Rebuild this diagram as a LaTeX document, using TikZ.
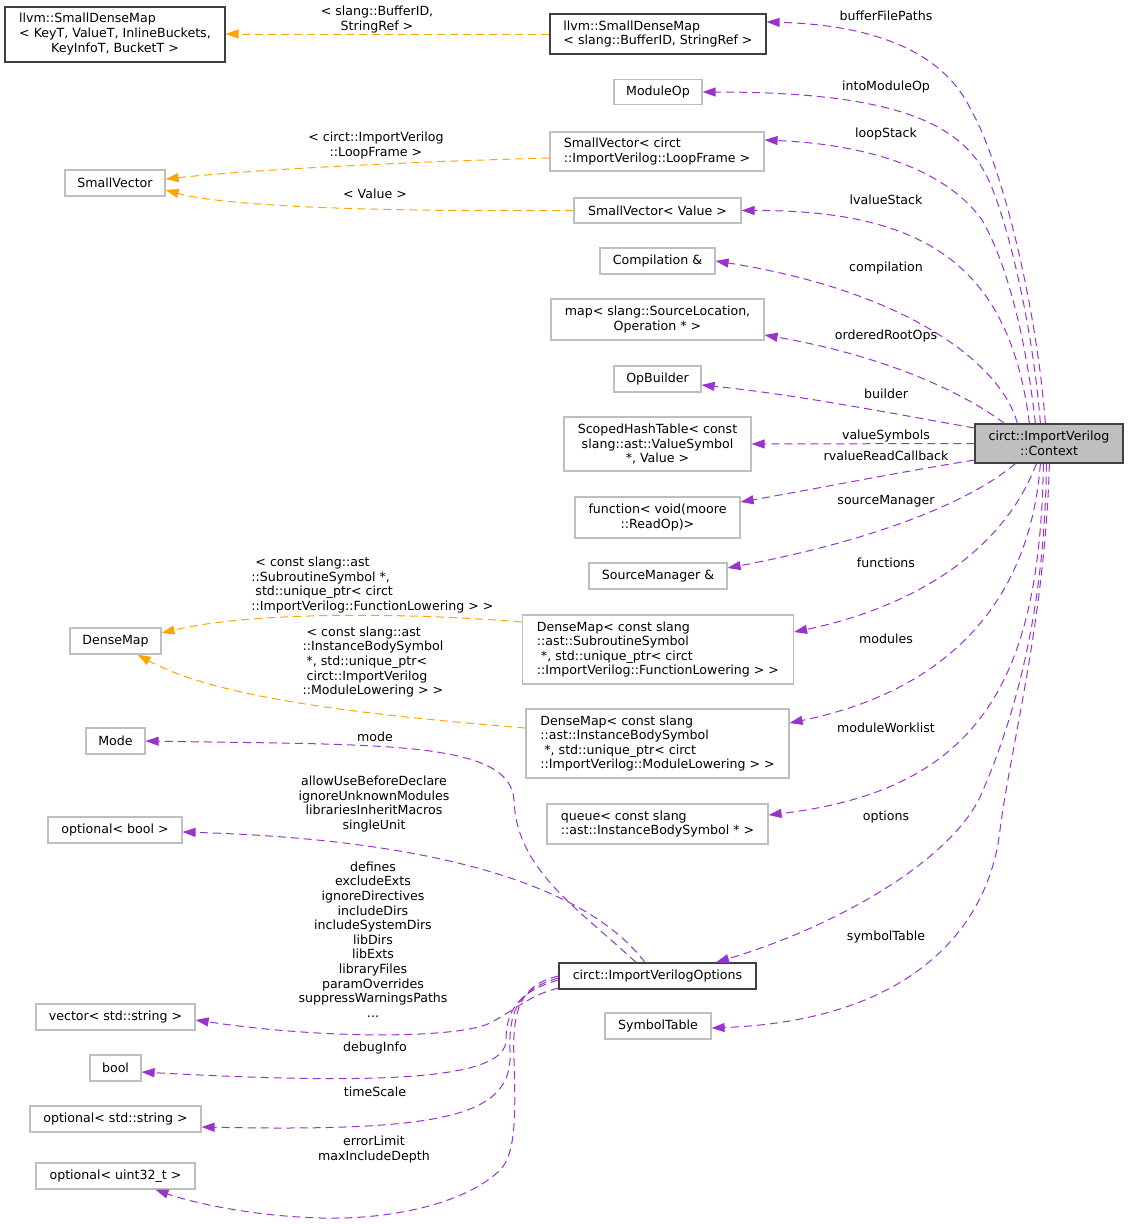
\documentclass[tikz,border=0pt]{standalone}
\usepackage{fontspec}
\setmainfont{DejaVu Sans}
\usetikzlibrary{arrows.meta,calc}
\definecolor{purp}{HTML}{9A32CD}
\definecolor{orng}{HTML}{FFA500}
\definecolor{gsev}{HTML}{BFBFBF}
\definecolor{docc}{HTML}{404040}
\newcommand\gfnt{\fontsize{12.6}{14.6}\selectfont}
\begin{document}
\begin{tikzpicture}[x=1pt,y=-1pt,
  nb/.style={draw=gsev, line width=1.2pt, fill=white, inner sep=0pt, font=\gfnt, align=center},
  nd/.style={nb, draw=docc},
  nr/.style={nb, draw=docc, fill=gsev},
  lbl/.style={inner sep=0pt, font=\gfnt, align=center},
  lbll/.style={inner sep=0pt, font=\gfnt, align=left},
  mem/.style={draw=purp, line width=1pt, dash pattern=on 8pt off 5pt, -{Triangle[length=13pt,width=9pt]}},
  tmpl/.style={mem, draw=orng}]
\fill[white] (0,0) rectangle (1128,1224);
\useasboundingbox (0,0) rectangle (1128,1224);

% nodes
\node[nd, minimum width=220pt, minimum height=55pt] (asdm) at (115,34.5) {\begin{tabular}{@{}l@{}}llvm::SmallDenseMap\\< KeyT, ValueT, InlineBuckets,\\\multicolumn{1}{@{}c@{}}{KeyInfoT, BucketT >}\end{tabular}};
\node[nd, align=left, minimum width=216pt, minimum height=40pt] (bsdm) at (658,34) {llvm::SmallDenseMap\\< slang::BufferID, StringRef >};
\node[nb, minimum width=88pt, minimum height=25pt] (modop) at (658,92) {ModuleOp};
\node[nb, align=left, minimum width=214pt, minimum height=39pt] (svloop) at (657,151.5) {SmallVector< circt\\::ImportVerilog::LoopFrame >};
\node[nb, minimum width=167pt, minimum height=25pt] (svval) at (657.5,210.5) {SmallVector< Value >};
\node[nb, minimum width=115pt, minimum height=26pt] (comp) at (657.5,261) {Compilation \&};
\node[nb, minimum width=213pt, minimum height=41pt] (map) at (657.5,319.5) {map< slang::SourceLocation,\\Operation * >};
\node[nb, minimum width=87pt, minimum height=26pt] (opb) at (657.5,379) {OpBuilder};
\node[nb, minimum width=187pt, minimum height=54pt] (scoped) at (657.5,444) {ScopedHashTable< const\\slang::ast::ValueSymbol\\*, Value >};
\node[nb, minimum width=165pt, minimum height=41pt] (func) at (657.5,517.5) {function< void(moore\\::ReadOp)>};
\node[nb, minimum width=138pt, minimum height=26pt] (srcmgr) at (658,576) {SourceManager \&};
\node[nb, align=left, minimum width=271pt, minimum height=69pt] (dmsub) at (658,649.5) {DenseMap< const slang\\::ast::SubroutineSymbol\\\mbox{}\ *, std::unique\_ptr< circt\\::ImportVerilog::FunctionLowering > >};
\node[nb, align=left, minimum width=263pt, minimum height=69pt] (dminst) at (657.5,743.5) {DenseMap< const slang\\::ast::InstanceBodySymbol\\\mbox{}\ *, std::unique\_ptr< circt\\::ImportVerilog::ModuleLowering > >};
\node[nb, align=left, minimum width=221pt, minimum height=40pt] (queue) at (657.5,824) {queue< const slang\\::ast::InstanceBodySymbol * >};
\node[nd, minimum width=197pt, minimum height=26pt] (opts) at (657.5,976) {circt::ImportVerilogOptions};
\node[nb, minimum width=106pt, minimum height=26pt] (symt) at (658,1026) {SymbolTable};
\node[nr, minimum width=148pt, minimum height=39pt] (ctx) at (1049,443.5) {circt::ImportVerilog\\::Context};
\node[nb, minimum width=100pt, minimum height=26pt] (svl) at (115,183) {SmallVector};
\node[nb, minimum width=91pt, minimum height=26pt] (dml) at (115.5,641) {DenseMap};
\node[nb, minimum width=59pt, minimum height=26pt] (mode) at (115.5,741) {Mode};
\node[nb, minimum width=134pt, minimum height=26pt] (optbool) at (115,830) {optional< bool >};
\node[nb, minimum width=159pt, minimum height=26pt] (vec) at (115.5,1017) {vector< std::string >};
\node[nb, minimum width=51pt, minimum height=26pt] (bool) at (115.5,1068) {bool};
\node[nb, minimum width=171pt, minimum height=26pt] (optstr) at (115.5,1119) {optional< std::string >};
\node[nb, minimum width=159pt, minimum height=26pt] (optu) at (115.5,1176) {optional< uint32\_t >};

% template edges
\draw[tmpl] (bsdm.west) -- (asdm.east |- bsdm.west);
\draw[tmpl] ($(svloop.west)+(0,6.5)$) .. controls (400,162) and (250,170) .. ($(svl.east)+(0,-4)$);
\draw[tmpl] (svval.west) .. controls (350,212) and (220,205) .. ($(svl.east)+(0,7)$);
\draw[tmpl] ($(dmsub.west)+(0,-27.5)$) .. controls (400,612) and (250,612) .. ($(dml.east)+(0,-8)$);
\draw[tmpl] ($(dminst.west)+(0,-15.5)$) .. controls (380,716) and (220,700) .. ($(dml.south)+(22,0)$);

% member edges from Context
\draw[mem] ($(ctx.north west)+(71,0)$) .. controls (1036,300) and (1000,160) .. (971,110) .. controls (945,55) and (880,25) .. ($(bsdm.east)+(0,-12)$);
\draw[mem] ($(ctx.north west)+(66,0)$) .. controls (1033,330) and (1010,230) .. (990,183) .. controls (965,125) and (900,92) .. (modop.east);
\draw[mem] ($(ctx.north west)+(61,0)$) .. controls (1025,330) and (1005,260) .. (982,220) .. controls (950,175) and (880,145) .. ($(svloop.east)+(0,-11.5)$);
\draw[mem] ($(ctx.north west)+(55,0)$) .. controls (1010,270) and (930,210) .. (svval.east);
\draw[mem] ($(ctx.north west)+(43,0)$) .. controls (1000,360) and (900,290) .. (comp.east);
\draw[mem] ($(ctx.north west)+(30,0)$) .. controls (960,390) and (880,355) .. ($(map.east)+(0,15.5)$);
\draw[mem] ($(ctx.west)+(0,-15.5)$) .. controls (900,415) and (800,395) .. ($(opb.east)+(0,6)$);
\draw[mem] (ctx.west) -- (scoped.east);
\draw[mem] ($(ctx.west)+(0,16.5)$) .. controls (900,472) and (820,488) .. ($(func.east)+(0,-15.5)$);
\draw[mem] ($(ctx.south west)+(41,0)$) .. controls (960,510) and (850,545) .. ($(srcmgr.east)+(0,-8)$);
\draw[mem] ($(ctx.south west)+(62,0)$) .. controls (1000,560) and (900,610) .. ($(dmsub.east)+(0,-17.5)$);
\draw[mem] ($(ctx.south west)+(66,0)$) .. controls (1030,600) and (950,690) .. ($(dminst.east)+(0,-20.5)$);
\draw[mem] ($(ctx.south west)+(69,0)$) .. controls (1040,680) and (980,790) .. ($(queue.east)+(0,-9)$);
\draw[mem] ($(ctx.south west)+(72,0)$) .. controls (1045,620) and (1010,730) .. (980,797) .. controls (950,860) and (840,925) .. ($(opts.north)+(58.5,0)$);
\draw[mem] ($(ctx.south west)+(75,0)$) .. controls (1045,620) and (1010,750) .. (1000,830) .. controls (990,920) and (920,1020) .. ($(symt.east)+(0,2)$);

% member edges from Options
\draw[mem] ($(opts.north)+(-21.5,0)$) .. controls (580,910) and (516,870) .. (514,800) .. controls (510,740) and (380,745) .. (mode.east);
\draw[mem] ($(opts.north)+(-12.5,0)$) .. controls (590,890) and (450,840) .. ($(optbool.east)+(0,2)$);
\draw[mem] ($(opts.west)+(0,12)$) .. controls (530,995) and (515,1010) .. (490,1023) .. controls (460,1038) and (330,1040) .. ($(vec.east)+(0,3)$);
\draw[mem] ($(opts.west)+(0,4)$) .. controls (515,992) and (506,1015) .. (506,1040) .. controls (506,1080) and (380,1085) .. ($(bool.east)+(0,4)$);
\draw[mem] ($(opts.west)+(0,2)$) .. controls (515,990) and (509,1015) .. (510,1050) .. controls (514,1115) and (450,1132) .. ($(optstr.east)+(0,8)$);
\draw[mem] (opts.west) .. controls (520,985) and (512,1010) .. (514,1060) .. controls (516,1120) and (515,1155) .. (500,1170) .. controls (470,1200) and (400,1220) .. (321,1218) .. controls (250,1216) and (190,1202) .. ($(optu.south)+(40,0)$);

% labels
\node[lbl] (l1) at (377,19.5) {< slang::BufferID,\\StringRef >};
\node[lbl] (l2) at (376,145.5) {< circt::ImportVerilog\\::LoopFrame >};
\node[lbl] (l3) at (375,194) {< Value >};
\node[lbl] (l4) at (886,16) {bufferFilePaths};
\node[lbl] (l5) at (886,87) {intoModuleOp};
\node[lbl] (l6) at (886,134) {loopStack};
\node[lbl] (l7) at (886,200) {lvalueStack};
\node[lbl] (l8) at (886,268) {compilation};
\node[lbl] (l9) at (886,336) {orderedRootOps};
\node[lbl] (l10) at (886,394) {builder};
\node[lbl] (l11) at (886,436) {valueSymbols};
\node[lbl] (l12) at (886,456) {rvalueReadCallback};
\node[lbl] (l13) at (886,501) {sourceManager};
\node[lbl] (l14) at (886,563) {functions};
\node[lbl] (l15) at (886,639) {modules};
\node[lbl] (l16) at (886,728) {moduleWorklist};
\node[lbl] (l17) at (886,817) {options};
\node[lbl] (l18) at (886,937) {symbolTable};
\node[lbll] (l19) at (372.5,585) {\mbox{}\ < const slang::ast\\::SubroutineSymbol *,\\\mbox{}\ std::unique\_ptr< circt\\::ImportVerilog::FunctionLowering > >};
\node[lbll] (l20) at (373,662) {\mbox{}\ < const slang::ast\\::InstanceBodySymbol\\\mbox{}\ *, std::unique\_ptr<\\\mbox{}\ circt::ImportVerilog\\::ModuleLowering > >};
\node[lbl] (l21) at (375,737) {mode};
\node[lbl] (l22) at (374,804) {allowUseBeforeDeclare\\ignoreUnknownModules\\librariesInheritMacros\\singleUnit};
\node[lbl] (l23) at (373,939.5) {defines\\excludeExts\\ignoreDirectives\\includeDirs\\includeSystemDirs\\libDirs\\libExts\\libraryFiles\\paramOverrides\\suppressWarningsPaths\\...};
\node[lbl] (l24) at (375,1048) {debugInfo};
\node[lbl] (l25) at (375,1092) {timeScale};
\node[lbl] (l26) at (374,1149.5) {errorLimit\\maxIncludeDepth};
\end{tikzpicture}
\end{document}
